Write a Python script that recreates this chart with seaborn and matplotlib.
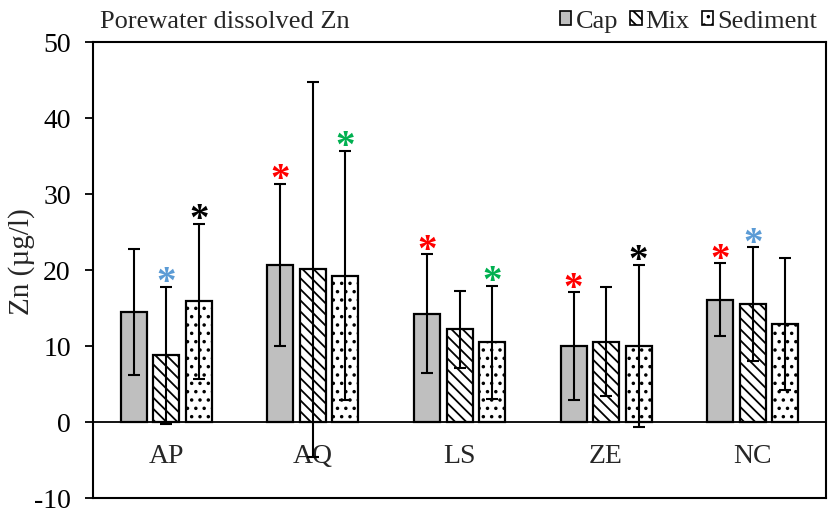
import numpy as np
import pandas as pd
import matplotlib
matplotlib.use("Agg")
import matplotlib.pyplot as plt
from matplotlib.patches import Patch
import seaborn as sns

# Sites and layers
sites = ["AP", "AQ", "LS", "ZE", "NC"]
layers = ["Cap", "Mix", "Sediment"]

# Mean porewater dissolved Zn (µg/l) per site, one list per layer
cap_mean = [14.5, 20.7, 14.3, 10.0, 16.1]
mix_mean = [8.8, 20.1, 12.2, 10.6, 15.5]
sed_mean = [15.9, 19.3, 10.5, 10.0, 12.9]

# Standard deviations
cap_sd = [8.3, 10.7, 7.8, 7.1, 4.8]
mix_sd = [9.0, 24.7, 5.1, 7.2, 7.5]
sed_sd = [10.2, 16.4, 7.4, 10.7, 8.7]

# Significance markers (colour per bar, None = no marker)
cap_sig = [None, "#FF0000", "#FF0000", "#FF0000", "#FF0000"]
mix_sig = ["#5B9BD5", None, None, None, "#5B9BD5"]
sed_sig = ["#000000", "#00B050", "#00B050", "#000000", None]

means = {"Cap": cap_mean, "Mix": mix_mean, "Sediment": sed_mean}
sds = {"Cap": cap_sd, "Mix": mix_sd, "Sediment": sed_sd}
sigs = {"Cap": cap_sig, "Mix": mix_sig, "Sediment": sed_sig}

df = pd.DataFrame(
    [(s, l, means[l][i]) for l in layers for i, s in enumerate(sites)],
    columns=["site", "layer", "zn"],
)

sns.set_theme(style="ticks")
plt.rcParams["font.family"] = ["Liberation Serif", "DejaVu Serif"]
plt.rcParams["axes.unicode_minus"] = False
plt.rcParams["hatch.linewidth"] = 1.3
plt.rcParams["hatch.color"] = "black"

fig = plt.figure(figsize=(8.29, 5.13), dpi=100)
ax = fig.add_axes([0.1122, 0.0292, 0.8842, 0.888])

sns.barplot(
    data=df, x="site", y="zn", hue="layer", order=sites, hue_order=layers,
    width=0.665, gap=0.2, errorbar=None, ax=ax, legend=False,
)

faces = {"Cap": "#BFBFBF", "Mix": "white", "Sediment": "white"}
hatches = {"Cap": "", "Mix": "\\\\\\", "Sediment": ".."}

for layer, cont in zip(layers, ax.containers):
    for i, patch in enumerate(cont.patches):
        patch.set_facecolor(faces[layer])
        patch.set_edgecolor("black")
        patch.set_linewidth(1.6)
        patch.set_hatch(hatches[layer])
        xc = patch.get_x() + patch.get_width() / 2
        m, sd = means[layer][i], sds[layer][i]
        ax.errorbar(xc, m, yerr=sd, fmt="none", ecolor="black",
                    elinewidth=1.5, capsize=4.5, capthick=1.5, zorder=4)
        col = sigs[layer][i]
        if col:
            ax.annotate("*", xy=(xc, m + sd), xytext=(0, -11),
                        textcoords="offset points", ha="center", va="bottom",
                        fontsize=28, fontweight="bold", color=col, zorder=5)

ax.set_ylim(-10, 50)
ax.set_xlim(-0.5, 4.5)
ax.set_yticks(range(-10, 51, 10))
ax.tick_params(axis="y", labelsize=20, length=6, width=1.3, direction="out",
               pad=10, colors="black")
ax.tick_params(axis="x", length=0, labelbottom=False)
for sp in ax.spines.values():
    sp.set_visible(True)
    sp.set_color("black")
    sp.set_linewidth(1.5)
ax.axhline(0, color="black", lw=1.3, zorder=1)

for i, s in enumerate(sites):
    ax.text(i, -4.5, s, ha="center", va="center", fontsize=20)

ax.set_xlabel("")
ax.set_ylabel("Zn (µg/l)", fontsize=21, va="center")
ax.yaxis.set_label_coords(-0.097, 0.52)

fig.text(0.121, 0.958, "Porewater dissolved Zn", fontsize=19, va="center")

handles = [Patch(facecolor=faces[l], edgecolor="black", hatch=hatches[l],
                 linewidth=1.2) for l in layers]
fig.legend(handles, layers, loc="center right", bbox_to_anchor=(1.005, 0.958),
           ncol=3, frameon=False, fontsize=19, handlelength=0.45,
           handleheight=0.45, handletextpad=0.15, columnspacing=0.45,
           borderpad=0.1)

fig.savefig("out.png", dpi=100)
